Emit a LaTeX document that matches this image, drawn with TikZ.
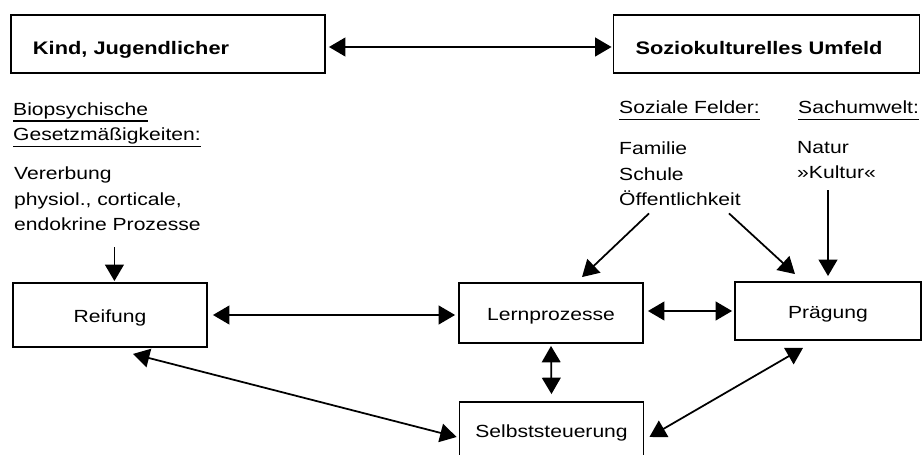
\documentclass[tikz,border=0pt]{standalone}
\usepackage{fontspec}
\setmainfont{Liberation Sans}[FakeStretch=1.2]
\usetikzlibrary{arrows.meta,calc}
\newcommand{\unterstrich}[1]{\setbox0\hbox{#1}\rlap{\rule[-5.5pt]{\wd0}{1pt}}#1}
\begin{document}
\begin{tikzpicture}[x=0.03cm,y=-0.03cm]
    \tikzset{kopf/.style = {draw=black,line width=1.6pt,inner xsep=0.66cm,minimum height=1.74cm,text height=18pt,text depth=0pt,align=left,font=\fontsize{15.5}{22}\selectfont\bfseries},
             stufe/.style = {draw=black,line width=1.6pt,text height=13pt,text depth=0pt,font=\fontsize{15}{22}\selectfont},
             txt/.style = {inner sep=0pt,anchor=base west,align=left,font=\fontsize{15}{22.1}\selectfont},
             hin/.style = {-{Triangle[length=14pt,width=16pt]},line width=1.5pt},
             pfeil/.style = {{Triangle[length=14pt,width=16pt]}-{Triangle[length=14pt,width=16pt]},line width=1.5pt}}
    \useasboundingbox (0,0) rectangle (922,455);
    % Kopfzeile
    \node[kopf,text width=8.1cm] (kind) at (168,44) {Kind, Jugendlicher};
    \node[kopf,text width=7.86cm] (umfeld) at (766.5,44) {Soziokulturelles Umfeld};
    % Texte (base = letzte Zeile)
    \node[txt] (bio) at (13,141) {\unterstrich{Biopsychische}\\\unterstrich{Gesetzmäßigkeiten:}};
    \node[txt] (vererb) at (14,231) {Vererbung\\physiol., corticale,\\endokrine Prozesse};
    \node[txt] (sozial) at (619,114) {\unterstrich{Soziale Felder:}};
    \node[txt] (sach) at (798,114) {\unterstrich{Sachumwelt:}};
    \node[txt] (felder) at (619,206) {Familie\\Schule\\Öffentlichkeit};
    \node[txt] (natur) at (797,179) {Natur\\»Kultur«};
    % Stufen
    \node[stufe,minimum width=5.82cm,minimum height=1.92cm] (reifung) at (110,315) {Reifung};
    \node[stufe,minimum width=5.52cm,minimum height=1.8cm] (lern) at (551,313) {Lernprozesse};
    \node[stufe,minimum width=5.58cm,minimum height=1.74cm] (praeg) at (828,311) {Prägung};
    \node[stufe,minimum width=5.52cm,minimum height=1.68cm] (selbst) at (551.5,430) {Selbststeuerung};
    % Pfeile
    \draw[pfeil] ($(kind.east)+(3,3)$) -- ($(umfeld.west)+(-1,3)$);
    \draw[hin] ($(vererb.south)+(7,16)$) -- ($(vererb.south |- reifung.north)+(7,-1)$);
    \draw[pfeil] ($(reifung.east)+(5,0)$) -- ($(reifung.east -| lern.west)+(-3,0)$);
    \draw[pfeil] ($(praeg.west -| lern.east)+(4,0)$) -- ($(praeg.west)+(-2,0)$);
    \draw[pfeil] ($(lern.south)+(0,2)$) -- ($(selbst.north)+(0,-7)$);
    \draw[pfeil] ($(praeg.south)+(-25,7)$) -- ($(selbst.east)+(5,7)$);
    \draw[pfeil] ($(reifung.south)+(23,6)$) -- ($(selbst.west)+(-2,7)$);
    \draw[hin] ($(felder.south)+(-31,7)$) -- ($(lern.north)+(31,-5)$);
    \draw[hin] ($(felder.south)+(49,7)$) -- ($(praeg.north)+(-33,-7)$);
    \draw[hin] ($(natur.south -| praeg.north)+(0,11)$) -- ($(praeg.north)+(0,-5)$);
\end{tikzpicture}
\end{document}
